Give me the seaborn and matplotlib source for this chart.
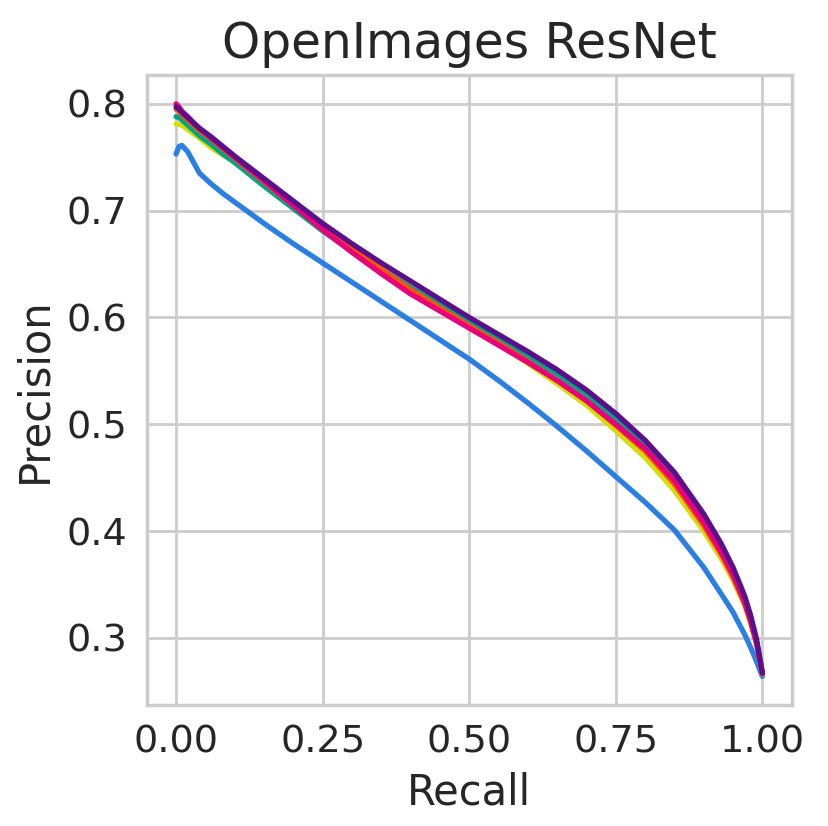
import numpy as np
import pandas as pd
import seaborn as sns
import matplotlib
matplotlib.use('Agg')
import matplotlib.pyplot as plt

recall = [0.0, 0.005, 0.01, 0.02, 0.03, 0.04, 0.06, 0.08, 0.1, 0.15, 0.2, 0.25, 0.3, 0.35, 0.4,
          0.45, 0.5, 0.55, 0.6, 0.65, 0.7, 0.75, 0.8, 0.85, 0.9, 0.93, 0.95, 0.97, 0.98, 0.99, 1.0]

# precision de cada curva
p_azul = [0.753, 0.760, 0.761, 0.755, 0.745, 0.735, 0.725, 0.716, 0.708, 0.688, 0.669, 0.651, 0.633, 0.615, 0.597,
          0.579, 0.561, 0.541, 0.520, 0.498, 0.475, 0.451, 0.427, 0.401, 0.366, 0.341, 0.324, 0.303, 0.291, 0.278, 0.264]
p_amarillo = [0.781, 0.781, 0.780, 0.776, 0.772, 0.768, 0.759, 0.752, 0.746, 0.725, 0.705, 0.684, 0.664, 0.645, 0.628,
              0.610, 0.593, 0.575, 0.557, 0.538, 0.518, 0.494, 0.469, 0.438, 0.400, 0.374, 0.354, 0.330, 0.314, 0.295, 0.266]
p_verde = [0.788, 0.787, 0.785, 0.780, 0.775, 0.770, 0.762, 0.753, 0.745, 0.723, 0.702, 0.681, 0.662, 0.645, 0.628,
           0.612, 0.596, 0.580, 0.564, 0.547, 0.528, 0.506, 0.481, 0.450, 0.410, 0.383, 0.361, 0.335, 0.318, 0.297, 0.267]
p_naranja = [0.795, 0.793, 0.790, 0.785, 0.780, 0.775, 0.767, 0.758, 0.749, 0.727, 0.705, 0.684, 0.664, 0.645, 0.626,
             0.609, 0.592, 0.576, 0.559, 0.541, 0.522, 0.499, 0.475, 0.444, 0.405, 0.378, 0.357, 0.332, 0.315, 0.295, 0.266]
p_magenta = [0.800, 0.797, 0.793, 0.788, 0.782, 0.777, 0.768, 0.759, 0.750, 0.728, 0.705, 0.682, 0.661, 0.641, 0.622,
             0.606, 0.590, 0.574, 0.558, 0.541, 0.522, 0.500, 0.477, 0.447, 0.408, 0.380, 0.359, 0.333, 0.316, 0.295, 0.267]
p_violeta = [0.797, 0.795, 0.792, 0.787, 0.782, 0.777, 0.769, 0.760, 0.751, 0.730, 0.709, 0.688, 0.669, 0.651, 0.634,
             0.617, 0.600, 0.584, 0.568, 0.551, 0.532, 0.510, 0.485, 0.455, 0.416, 0.388, 0.366, 0.339, 0.321, 0.299, 0.267]

curvas = ['azul', 'amarillo', 'verde', 'naranja', 'magenta', 'violeta']
colores = ['#2b7fe3', '#d2df00', '#00a28a', '#ff5500', '#e8007d', '#5c0f8b']
precisiones = [p_azul, p_amarillo, p_verde, p_naranja, p_magenta, p_violeta]

df = pd.DataFrame({
    'Recall': recall * len(curvas),
    'Precision': sum(precisiones, []),
    'curva': np.repeat(curvas, len(recall)),
})

sns.set_theme(style='whitegrid', context='notebook', font_scale=1.25,
              rc={'xtick.major.size': 3.5, 'ytick.major.size': 3.5,
                  'xtick.major.pad': 3.5, 'ytick.major.pad': 3.5})

fig, ax = plt.subplots(figsize=(829 / 200, 826 / 200), dpi=200)
fig.subplots_adjust(left=0.177, right=0.955, bottom=0.1465, top=0.909)

sns.lineplot(data=df, x='Recall', y='Precision', hue='curva', hue_order=curvas,
             palette=colores, estimator=None, sort=False, legend=False, ax=ax, linewidth=1.9)

ax.set_title('OpenImages ResNet', fontsize=17.5)
ax.set_xticks([0.0, 0.25, 0.5, 0.75, 1.0])
ax.set_xticklabels(['0.00', '0.25', '0.50', '0.75', '1.00'])
ax.set_yticks([0.3, 0.4, 0.5, 0.6, 0.7, 0.8])

fig.savefig('out.png', dpi=200)
